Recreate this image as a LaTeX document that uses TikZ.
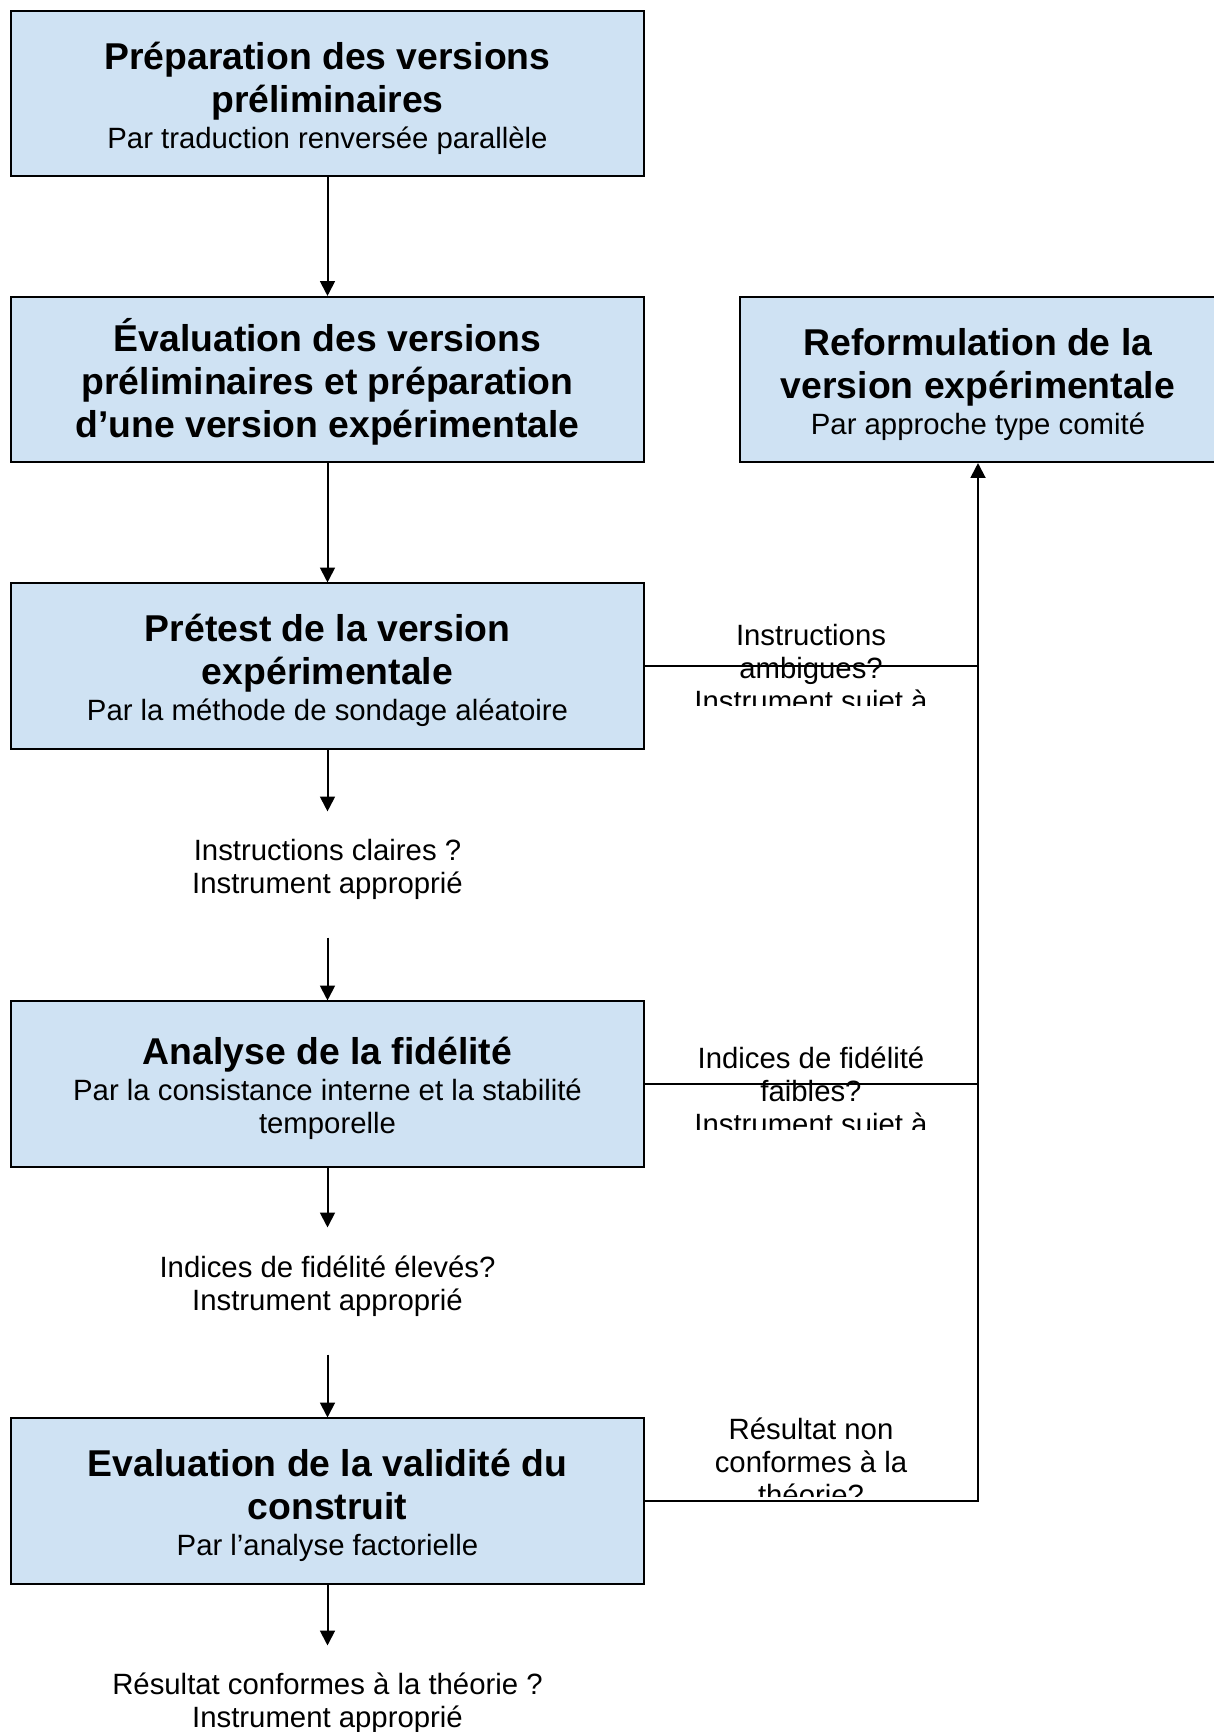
\documentclass[tikz,border=0pt]{standalone}
\usepackage{fontspec}
\setmainfont{Liberation Sans}
\usetikzlibrary{arrows.meta}
\definecolor{stagefill}{RGB}{207,226,243}
\newcommand{\titlefont}{\fontsize{14}{16.1}\selectfont\bfseries}
\newcommand{\topstrut}{\rule{0pt}{14.4pt}}
\newcommand{\botstrut}{\rule[-3pt]{0pt}{0pt}}
\newcommand{\deepstrut}{\rule[-6.2pt]{0pt}{0pt}}
\setlength{\lineskiplimit}{-\maxdimen}

\begin{document}
\begin{tikzpicture}[x=0.375pt, y=-0.375pt,
    font=\fontsize{11}{12.4}\selectfont,
    stage/.style={draw, line width=0.75pt, fill=stagefill, align=center,
        minimum width=237.4pt, minimum height=61.9pt, inner sep=0pt},
    remark/.style={align=center, inner sep=0pt},
    flow/.style={line width=0.75pt, -{Triangle[length=5.6pt, width=5.6pt]}},
    link/.style={line width=0.75pt}]
    \useasboundingbox (0,0) rectangle (1213,1732);
    % main column
    \node[stage] (prep) at (327.5,93.5) {\topstrut{\titlefont Préparation des versions}\\[3.7pt]{\titlefont préliminaires}\\[1.1pt]Par traduction renversée parallèle\botstrut};
    \node[stage] (evalv) at (327.5,379.5) {\topstrut{\titlefont Évaluation des versions}\\[3.7pt]{\titlefont préliminaires et préparation}\\[3.7pt]{\titlefont d’une version expérimentale}\botstrut};
    \node[stage] (pretest) at (327.5,666) {\topstrut{\titlefont Prétest de la version}\\[3.7pt]{\titlefont expérimentale}\\[1.1pt]Par la méthode de sondage aléatoire\botstrut};
    \node[remark, minimum height=46.9pt] (q1) at (327.5,874.5) {Instructions claires ?\\Instrument approprié\deepstrut};
    \node[stage] (fidel) at (327.5,1084) {\topstrut{\titlefont Analyse de la fidélité}\\[1.1pt]Par la consistance interne et la stabilité\\temporelle\botstrut};
    \node[remark, minimum height=47.25pt] (q2) at (327.5,1291) {Indices de fidélité élevés?\\Instrument approprié\deepstrut};
    \node[stage] (valid) at (327.5,1501) {\topstrut{\titlefont Evaluation de la validité du}\\[3.7pt]{\titlefont construit}\\[1.1pt]Par l’analyse factorielle\botstrut};
    \node[remark, minimum height=43.2pt] (q3) at (327.5,1703.6) {Résultat conformes à la théorie ?\\Instrument approprié};
    % feedback box
    \node[stage, minimum width=178.5pt] (reform) at (978,379.5) {\topstrut{\titlefont Reformulation de la}\\[3.7pt]{\titlefont version expérimentale}\\[1.1pt]Par approche type comité\botstrut};
    % side notes, cut off at the bottom
    \begin{scope}
        \clip (680,600) rectangle (945,705);
        \node[remark] (ambig) at (811,671) {Instructions\\ambigues?\\Instrument sujet à};
    \end{scope}
    \begin{scope}
        \clip (680,1030) rectangle (945,1129);
        \node[remark] (faible) at (811,1094) {Indices de fidélité\\faibles?\\Instrument sujet à};
    \end{scope}
    \begin{scope}
        \clip (680,1395) rectangle (945,1496);
        \node[remark] (nonconf) at (811,1461.5) {Résultat non\\conformes à la\\théorie?};
    \end{scope}
    \draw[flow] (prep.south) -- (evalv.north);
    \draw[flow] (evalv.south) -- (pretest.north);
    \draw[flow] (pretest.south) -- (q1.north);
    \draw[flow] (q1.south) -- (fidel.north);
    \draw[flow] (fidel.south) -- (q2.north);
    \draw[flow] (q2.south) -- (valid.north);
    \draw[flow] (valid.south) -- (q3.north);
    \draw[link] (pretest.east) -- (pretest.east -| reform.south);
    \draw[link] (fidel.east) -- (fidel.east -| reform.south);
    \draw[flow] (valid.east) -| (reform.south);
\end{tikzpicture}
\end{document}
